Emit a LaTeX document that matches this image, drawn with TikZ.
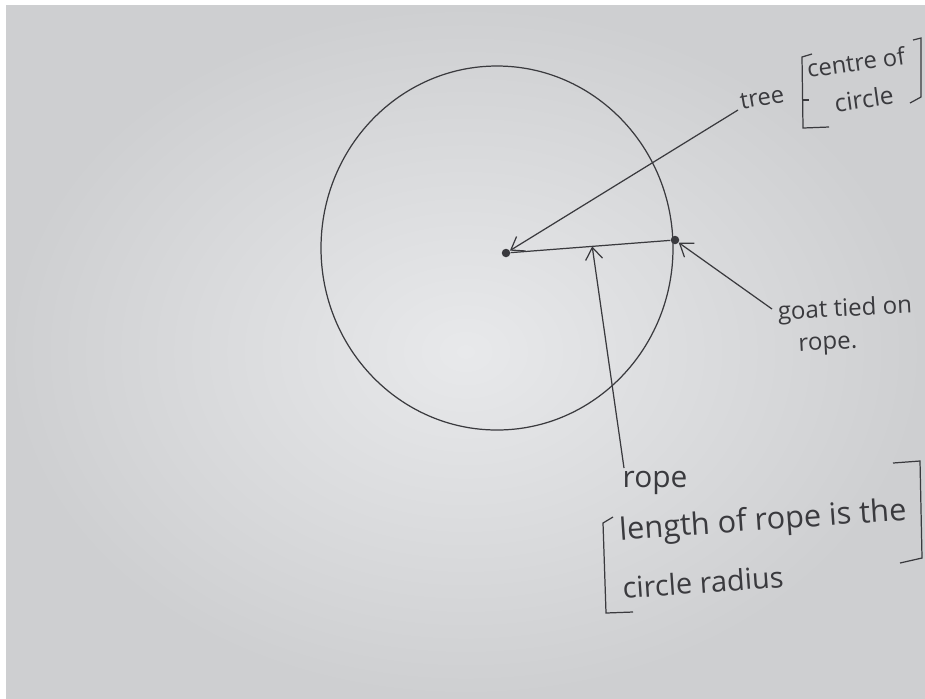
\documentclass[tikz,border=0pt]{standalone}
\usepackage{fontspec}
\setmainfont{Open Sans}
\usepackage{tikz}
\usetikzlibrary{arrows.meta,positioning,calc}

\definecolor{pen}{RGB}{58,58,62}
\definecolor{paperlight}{RGB}{232,233,235}
\definecolor{paperdark}{RGB}{206,207,209}

\begin{document}
\begin{tikzpicture}[x=0.02cm, y=-0.02cm, >={Straight Barb[length=2.4mm,width=3.4mm]},
		line/.style={draw=pen, line width=0.7pt},
		dot/.style={circle, fill=pen, inner sep=0pt, minimum size=0.17cm},
		hand/.style={text=pen, inner sep=0pt, font=\fontsize{#1}{#1}\selectfont},
		hand/.default=16]
		
		% Paper
		\fill[white] (0,0) rectangle (925,698);
		\shade[inner color=paperlight, outer color=paperdark] (6,5) rectangle (925,698);
		
		% Circle and dots
		\draw[line] (497,248) ellipse (176 and 182);
		\node[dot] (tree) at (506,253) {};
		\node[dot] (goat) at (675,240) {};
		
		% Labels
		\node[hand=13.5, rotate=10] (treelbl) at (762,98) {tree};
		\node[hand=13.5, rotate=8] (centrelbl) at (856,62) {centre of};
		\node[hand=14, rotate=8] (circlelbl) at (864,99) {circle};
		
		\node[hand=13.7, rotate=3] (goatlbl) at (845,310) {goat tied on};
		\node[hand=13.7, rotate=3] (goatrope) at (828,346) {rope.};
		
		\node[hand=17] (ropelbl) at (655,483) {rope};
		\node[hand=17.5, rotate=4] (lengthlbl) at (763,522) {length of rope is the};
		\node[hand=16.5, rotate=4] (radiuslbl) at (703,582) {circle radius};
		
		% Connectors
		\coordinate (treetail) at (738,110);
		\coordinate (goattail) at (772,309);
		\coordinate (ropetail) at (624,468);
		\coordinate (ropemid) at ($(tree)!0.51!(goat)$);
		
		\draw[line] (tree) -- (goat);
		\draw[line,->] (treetail) -- (tree);
		\draw[line,->] (goattail) -- (goat);
		\draw[line,->] (ropetail) -- (ropemid);
		
		% Brackets
		\draw[line] (812,54) -- (802,57) -- (803,128) -- (829,127);
		\draw[line] (803,100) -- (809,100);
		\draw[line] (913,40) -- (921,38) -- (921,97) -- (910,103);
		\draw[line] (613,517) -- (603,523) -- (606,613) -- (633,612);
		\draw[line] (893,463) -- (920,461) -- (922,558) -- (900,563);
		
	\end{tikzpicture}
\end{document}
